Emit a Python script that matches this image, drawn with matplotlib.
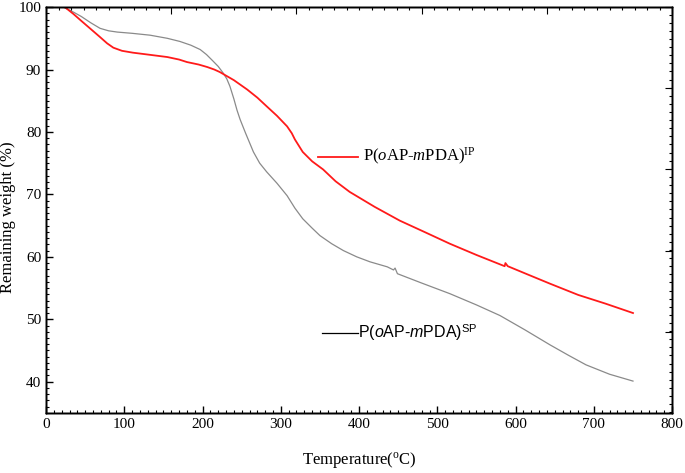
import matplotlib
matplotlib.use('Agg')
import matplotlib.pyplot as plt
from matplotlib.ticker import MultipleLocator, FixedLocator

plt.rcParams['font.family'] = 'Liberation Serif'
plt.rcParams['mathtext.fontset'] = 'custom'
plt.rcParams['mathtext.rm'] = 'Liberation Serif'
plt.rcParams['mathtext.it'] = 'Liberation Serif:italic'
plt.rcParams['mathtext.sf'] = 'Liberation Sans'
plt.rcParams['mathtext.cal'] = 'Liberation Sans:italic'

# TGA curves
ip_temp = [24, 35, 45, 57, 69, 78, 86, 97, 111, 130, 155, 170, 180, 195, 206, 215, 222,
           240, 257, 270, 282, 295, 308, 314, 318, 323, 328, 340, 354, 370, 388, 420,
           452, 485, 516, 550, 580, 586, 587, 590, 615, 644, 680, 715, 750]
ip_weight = [100, 98.9, 97.8, 96.5, 95.2, 94.2, 93.5, 93.0, 92.7, 92.4, 92.0, 91.6, 91.2, 90.8, 90.4, 90.0, 89.6,
             88.3, 86.8, 85.5, 84.1, 82.6, 80.9, 79.8, 78.8, 77.8, 76.8, 75.3, 74.0, 72.1, 70.4, 68.0,
             65.8, 63.9, 62.1, 60.3, 58.8, 58.5, 59.0, 58.5, 57.2, 55.7, 53.9, 52.5, 51.0]

sp_temp = [22, 35, 45, 57, 69, 80, 91, 110, 133, 155, 171, 185, 197, 205, 213, 220, 226,
           231, 235, 240, 244, 248, 255, 265, 273, 282, 295, 308, 318, 328, 340, 350, 365,
           380, 397, 414, 436, 444, 446, 449, 480, 516, 550, 580, 612, 644, 668, 690, 720, 750]
sp_weight = [100, 99.2, 98.5, 97.5, 96.6, 96.2, 96.0, 95.8, 95.5, 95.0, 94.5, 93.9, 93.2, 92.4, 91.4, 90.5, 89.5,
             88.5, 87.3, 85.3, 83.5, 82.0, 79.8, 76.8, 75.0, 73.6, 71.8, 69.8, 67.8, 66.1, 64.6, 63.4, 62.1,
             61.0, 60.0, 59.2, 58.4, 57.9, 58.2, 57.3, 55.8, 54.1, 52.3, 50.6, 48.3, 45.9, 44.2, 42.7, 41.2, 40.1]

xticks = [0, 100, 200, 300, 400, 500, 600, 700, 800]
yticks = [40, 50, 60, 70, 80, 90, 100]

fig = plt.figure(figsize=(6.85, 4.73), dpi=100)
ax = fig.add_axes([0.0672, 0.127, 0.914, 0.858])

ax.plot(sp_temp, sp_weight, color='#8a8a8a', lw=0.9)
ax.plot(ip_temp, ip_weight, color='#ff1a1a', lw=1.3)

ax.set_xlim(0, 800)
ax.set_ylim(35, 100)
ax.set_xticks(xticks)
ax.set_yticks(yticks)
ax.xaxis.set_minor_locator(MultipleLocator(10))
ax.yaxis.set_minor_locator(MultipleLocator(1))
ax.tick_params(which='both', direction='in', labelsize=11, top=False, right=False)
ax.tick_params(which='major', length=5, width=1)
ax.tick_params(which='minor', length=2.5, width=0.8)

# top and right axes have their own tick spacing
top = ax.twiny()
top.set_xlim(0, 800)
top.xaxis.set_major_locator(FixedLocator([0, 160, 320, 480, 640, 800]))
top.xaxis.set_minor_locator(MultipleLocator(16))
top.tick_params(which='both', direction='in', labeltop=False)
top.tick_params(which='major', length=5)
top.tick_params(which='minor', length=2.5, width=0.8)
right = ax.twinx()
right.set_ylim(35, 100)
right.yaxis.set_major_locator(FixedLocator([35, 48, 61, 74, 87, 100]))
right.yaxis.set_minor_locator(MultipleLocator(1.3))
right.tick_params(which='both', direction='in', labelright=False)
right.tick_params(which='major', length=5)
right.tick_params(which='minor', length=2.5, width=0.8)

for a in (ax, top, right):
    for s in a.spines.values():
        s.set_linewidth(1.0)

ax.set_xlabel('Temperature($^{\\rm o}$C)', fontsize=12, labelpad=14)
ax.set_ylabel('Remaining weight (%)', fontsize=12)
ax.yaxis.set_label_coords(-0.048, 0.483)

# inline legend
ax.plot([0.435, 0.498], [0.631, 0.631], color='#ff1a1a', lw=1.3, transform=ax.transAxes)
ax.text(0.506, 0.631, r'P($\mathit{o}$AP-$\mathit{m}$PDA)$^{\mathrm{IP}}$', transform=ax.transAxes,
        fontsize=12, va='center', ha='left')
ax.plot([0.441, 0.499], [0.197, 0.197], color='black', lw=0.9, transform=ax.transAxes)
ax.text(0.499, 0.197, r'P($\mathcal{o}$AP-$\mathcal{m}$PDA)$^{\mathsf{SP}}$', transform=ax.transAxes,
        fontsize=11.5, va='center', ha='left', family='Liberation Sans')

fig.savefig('out.png', dpi=100)
